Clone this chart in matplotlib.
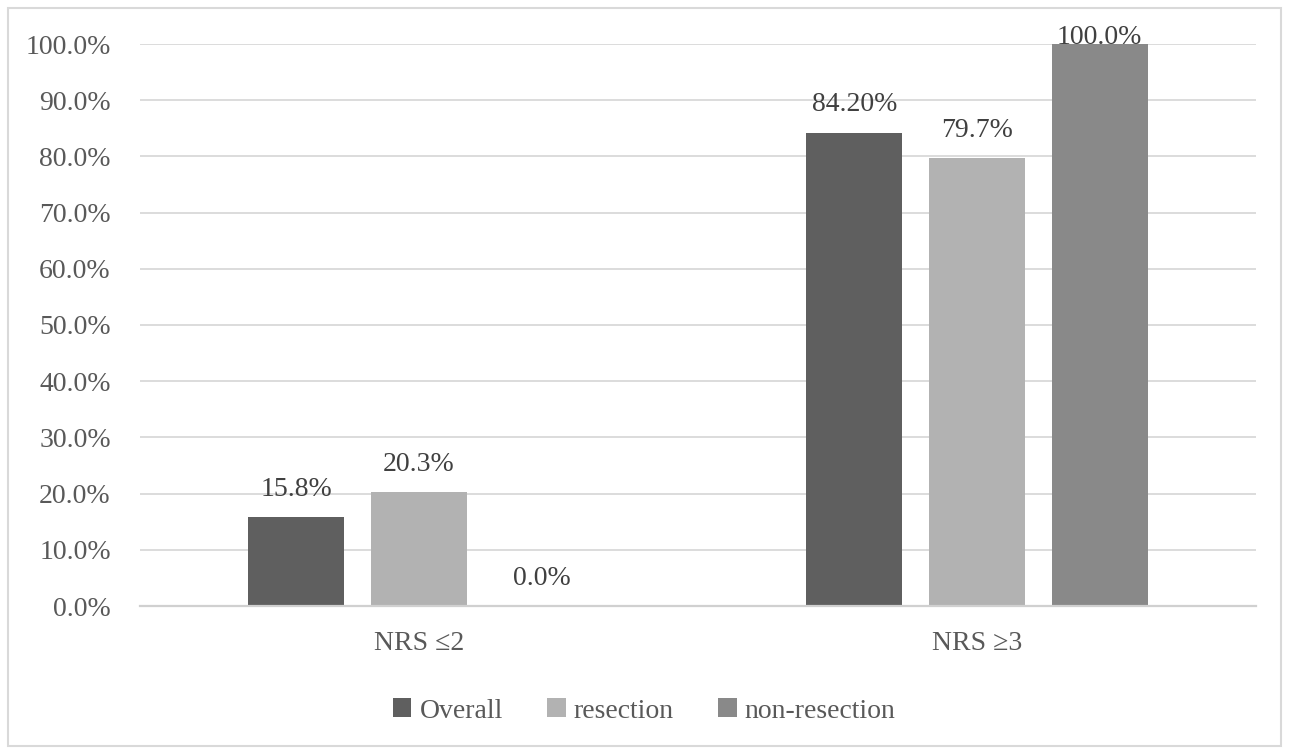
import matplotlib

matplotlib.use("Agg")

import matplotlib.pyplot as plt
import numpy as np
from matplotlib.patches import Rectangle

categories = ["NRS \u22642", "NRS \u22653"]
series_names = ["Overall", "resection", "non-resection"]
overall = [0.158, 0.842]
resection = [0.203, 0.797]
non_resection = [0.0, 1.0]
label_texts = [
    ["15.8%", "84.20%"],
    ["20.3%", "79.7%"],
    ["0.0%", "100.0%"],
]
colors = ["#5f5f5f", "#b2b2b2", "#898989"]
y_ticks = np.arange(0, 1.01, 0.1)

plt.rcParams["font.family"] = ["Liberation Serif", "DejaVu Serif"]
plt.rcParams["font.size"] = 20

W, H = 1289, 754
fig = plt.figure(figsize=(W / 100, H / 100), dpi=100)
fig.add_artist(Rectangle((8 / W, 8 / H), 1273 / W, 738 / H, transform=fig.transFigure,
                         fill=False, edgecolor="#d9d9d9", linewidth=1.5))

ax = fig.add_axes([140 / W, 1 - 606 / H, 1116 / W, 562 / H])

x = np.arange(len(categories))
width = 0.172
pitch = 0.22
for i, (vals, name) in enumerate(zip([overall, resection, non_resection], series_names)):
    pos = x + (i - 1) * pitch
    ax.bar(pos, vals, width, color=colors[i], label=name, zorder=3)
    for p, v, t in zip(pos, vals, label_texts[i]):
        ax.text(p, min(v + 0.038, 1.0), t, ha="center", va="baseline",
                color="#404040", fontsize=20, zorder=4)

ax.set_xlim(-0.5, 1.5)
ax.set_ylim(0, 1.0)
ax.set_yticks(y_ticks)
ax.set_yticklabels([f"{t * 100:.1f}%" for t in y_ticks])
ax.set_xticks(x)
ax.set_xticklabels(categories)
ax.grid(axis="y", color="#d9d9d9", linewidth=1.3, zorder=0)
for side in ["top", "right", "left"]:
    ax.spines[side].set_visible(False)
ax.spines["bottom"].set_color("#d0d0d0")
ax.spines["bottom"].set_linewidth(1.6)
ax.spines["bottom"].set_zorder(5)
ax.tick_params(axis="both", length=0, colors="#595959", labelsize=20)
ax.tick_params(axis="y", pad=21)
ax.tick_params(axis="x", pad=18)

fig.legend(loc="center", bbox_to_anchor=(0.5, 1 - 711 / H), ncol=3, frameon=False,
           handlelength=0.65, handleheight=0.65, handletextpad=0.3, columnspacing=1.6,
           labelcolor="#595959", fontsize=20)

fig.savefig("out.png", dpi=100)
